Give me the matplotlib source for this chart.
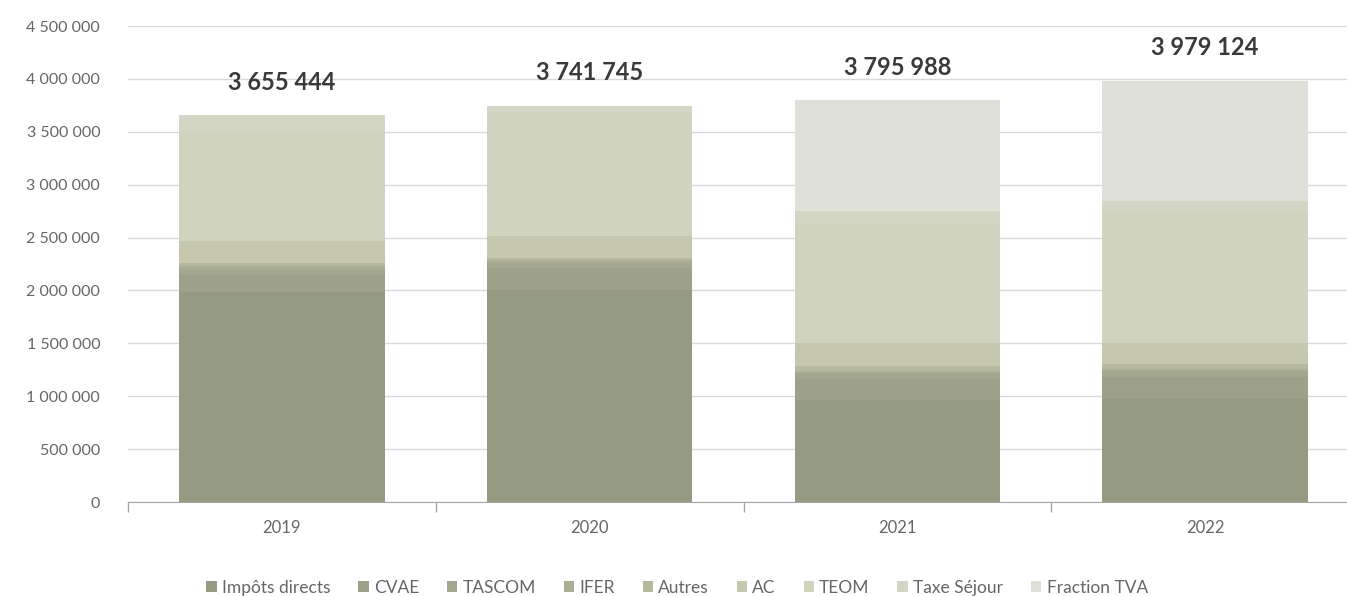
import matplotlib
matplotlib.use("Agg")
import matplotlib.pyplot as plt
from matplotlib.ticker import FuncFormatter, FixedLocator
import numpy as np

plt.rcParams["font.family"] = ["Lato", "DejaVu Sans"]

years = ["2019", "2020", "2021", "2022"]
series = ["Impôts directs", "CVAE", "TASCOM", "IFER", "Autres", "AC",
          "TEOM", "Taxe Séjour", "Fraction TVA"]

impots_directs = [1990000, 2000000, 960000, 970000]
cvae = [165000, 210000, 200000, 210000]
tascom = [50000, 50000, 55000, 55000]
ifer = [25000, 25000, 25000, 25000]
autres = [30000, 25000, 45000, 40000]
ac = [210000, 200000, 215000, 200000]
teom = [1030000, 1170000, 1120000, 1240000]
taxe_sejour = [155444, 61745, 130000, 110000]
fraction_tva = [0, 0, 1045988, 1129124]

totals = [3655444, 3741745, 3795988, 3979124]

values = [impots_directs, cvae, tascom, ifer, autres, ac, teom,
          taxe_sejour, fraction_tva]
colors = ["#959a82", "#9ea18a", "#a4a78f", "#abae95", "#b6b99e",
          "#c5c8ae", "#d0d3be", "#d4d6c5", "#dfe0d8"]

fig = plt.figure(figsize=(13.47, 5.96), dpi=100)
ax = fig.add_axes([128 / 1347, 94 / 596, 1231 / 1347, 476 / 596])

x = np.arange(len(years))
bottom = np.zeros(len(years))
for name, vals, col in zip(series, values, colors):
    ax.bar(x, vals, width=0.667, bottom=bottom, color=col, label=name,
           zorder=2, linewidth=0)
    bottom += np.array(vals)

for xi, t in zip(x, totals):
    ax.annotate(f"{t:,}".replace(",", " "), (xi, t), xytext=(0, 24),
                textcoords="offset points", ha="center", va="center",
                fontsize=17, fontweight="bold", color="#3a3a3a")

ax.set_xlim(-0.5, 3.5)
ax.set_ylim(0, 4500000)
ax.set_yticks(np.arange(0, 4500001, 500000))
ax.yaxis.set_major_formatter(FuncFormatter(lambda v, p: f"{int(v):,}".replace(",", " ")))
ax.tick_params(axis="y", length=0, pad=20, labelsize=11.5, labelcolor="#666666")
ax.grid(axis="y", color="#d9d9d9", linewidth=1, zorder=0)

ax.set_xticks(x)
ax.set_xticklabels(years)
ax.tick_params(axis="x", which="major", length=0, pad=13, labelsize=12,
               labelcolor="#666666")
ax.xaxis.set_minor_locator(FixedLocator(np.arange(-0.5, 4, 1)))
ax.tick_params(axis="x", which="minor", length=7, color="#a6a6a6", width=1)

for s in ["top", "right", "left"]:
    ax.spines[s].set_visible(False)
ax.spines["bottom"].set_color("#a6a6a6")

ax.legend(loc="upper center", bbox_to_anchor=(0.446, -0.13), ncol=9,
          frameon=False, fontsize=12.5, handlelength=0.6, handleheight=0.6,
          handletextpad=0.3, columnspacing=1.6, labelcolor="#666666")

fig.savefig("out.png", dpi=100)
